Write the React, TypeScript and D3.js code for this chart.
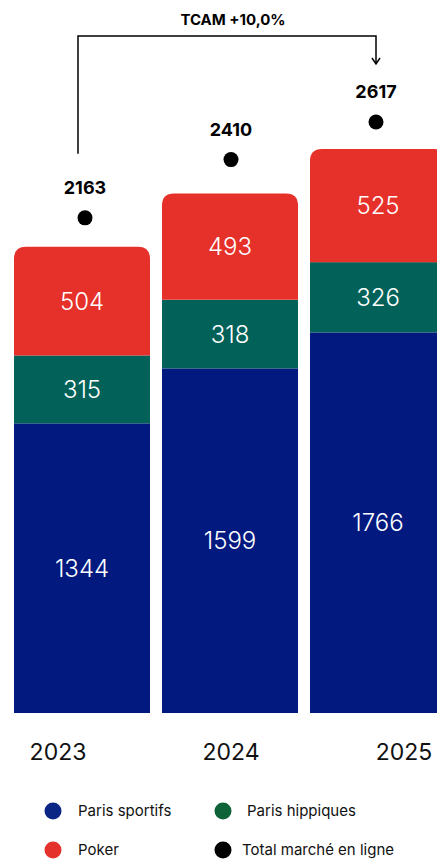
import React from "react";
import { scaleBand, scaleLinear, scalePoint, stack } from "d3";

// DATA
const years = ["2023", "2024", "2025"];
const parisSportifs = [1344, 1599, 1766];
const parisHippiques = [315, 318, 326];
const poker = [504, 493, 525];
const totals = [2163, 2410, 2617];
const tcamLabel = "TCAM +10,0%";

const seriesKeys = ["sportifs", "hippiques", "poker"];
const seriesColors: Record<string, string> = {
  sportifs: "#021a7f",
  hippiques: "#02625a",
  poker: "#e6302a",
};

const legendItems = [
  { label: "Paris sportifs", color: "#0a2583" },
  { label: "Paris hippiques", color: "#0e6338" },
  { label: "Poker", color: "#e5312b" },
  { label: "Total marché en ligne", color: "#000000" },
];

const width = 437;
const height = 859;
const font = "Inter, 'Noto Sans', sans-serif";

const App = () => {
  const rows = years.map((y, i) => ({
    year: y,
    sportifs: parisSportifs[i],
    hippiques: parisHippiques[i],
    poker: poker[i],
  }));

  // SCALES
  const xScale = scaleBand<string>()
    .domain(years)
    .range([14, 446])
    .paddingInner(12 / 148)
    .paddingOuter(0);

  const yScale = scaleLinear().domain([0, 2617]).range([713, 149]);

  const yearLabelScale = scalePoint<string>().domain(years).range([58, 404]);

  const layers = stack<any>().keys(seriesKeys)(rows);
  const bw = xScale.bandwidth();
  const r = 12;

  // rounded-top rect path
  const topRounded = (x: number, y0: number, y1: number, w: number) =>
    `M${x},${y1} L${x},${y0 + r} Q${x},${y0} ${x + r},${y0} L${x + w - r},${y0} Q${x + w},${y0} ${x + w},${y0 + r} L${x + w},${y1} Z`;

  const cx = (y: string) => (xScale(y) as number) + bw / 2;
  const dotOffset = [3, 1, -2];
  const dotGap = [29, 34, 27];
  const dotY = (i: number) => yScale(totals[i]) - dotGap[i];

  const firstX = cx(years[0]) - 4;
  const lastX = cx(years[2]) - 2;
  const bracketTop = 36;

  return (
    <svg
      width={width}
      height={height}
      style={{ position: "absolute", left: 0, top: 0, background: "#fff" }}
    >
      {/* BARS */}
      {layers.map((layer) => (
        <g key={layer.key}>
          {layer.map((d, i) => {
            const x = xScale(years[i]) as number;
            const y0 = yScale(d[1]);
            const y1 = yScale(d[0]);
            const isTop = layer.key === "poker";
            return (
              <g key={years[i]}>
                {isTop ? (
                  <path d={topRounded(x, y0, y1, bw)} fill={seriesColors[layer.key]} />
                ) : (
                  <rect x={x} y={y0} width={bw} height={y1 - y0} fill={seriesColors[layer.key]} />
                )}
                <text
                  x={x + bw / 2}
                  y={(y0 + y1) / 2}
                  dy="0.36em"
                  textAnchor="middle"
                  fill="#fff"
                  fontFamily={font}
                  fontWeight={300}
                  fontSize={24}
                >
                  {d[1] - d[0]}
                </text>
              </g>
            );
          })}
        </g>
      ))}

      {/* TOTALS */}
      {years.map((y, i) => (
        <g key={y}>
          <circle cx={cx(y) + dotOffset[i]} cy={dotY(i)} r={7.5} fill="#000" />
          <text
            x={cx(y) + dotOffset[i]}
            y={dotY(i) - 30}
            dy="0.36em"
            textAnchor="middle"
            fontFamily={font}
            fontWeight={700}
            fontSize={18}
            fill="#000"
          >
            {totals[i]}
          </text>
        </g>
      ))}

      {/* TCAM BRACKET */}
      <path
        d={`M${firstX},${dotY(0) - 64} L${firstX},${bracketTop} L${lastX},${bracketTop} L${lastX},${63}`}
        fill="none"
        stroke="#000"
        strokeWidth={1.5}
      />
      <path
        d={`M${lastX - 4},${58} L${lastX},${64} L${lastX + 4},${58}`}
        fill="none"
        stroke="#000"
        strokeWidth={1.5}
      />
      <text
        x={(firstX + lastX) / 2 + 6}
        y={20}
        dy="0.36em"
        textAnchor="middle"
        fontFamily={font}
        fontWeight={700}
        fontSize={15}
        fill="#000"
      >
        {tcamLabel}
      </text>

      {/* YEAR LABELS */}
      {years.map((y) => (
        <text
          key={y}
          x={yearLabelScale(y)}
          y={752}
          dy="0.36em"
          textAnchor="middle"
          fontFamily={font}
          fontWeight={400}
          fontSize={23}
          fill="#111"
        >
          {y}
        </text>
      ))}

      {/* LEGEND */}
      {legendItems.map((item, i) => {
        const col = i % 2;
        const row = Math.floor(i / 2);
        const lx = col === 0 ? 53 : 223;
        const ly = 811 + row * 39;
        return (
          <g key={item.label}>
            <circle cx={lx} cy={ly} r={8.5} fill={item.color} />
            <text
              x={lx + (col === 0 ? 25 : i === 1 ? 24 : 19)}
              y={ly}
              dy="0.36em"
              fontFamily={font}
              fontSize={15}
              fill="#111"
            >
              {item.label}
            </text>
          </g>
        );
      })}
    </svg>
  );
};

export default App;
